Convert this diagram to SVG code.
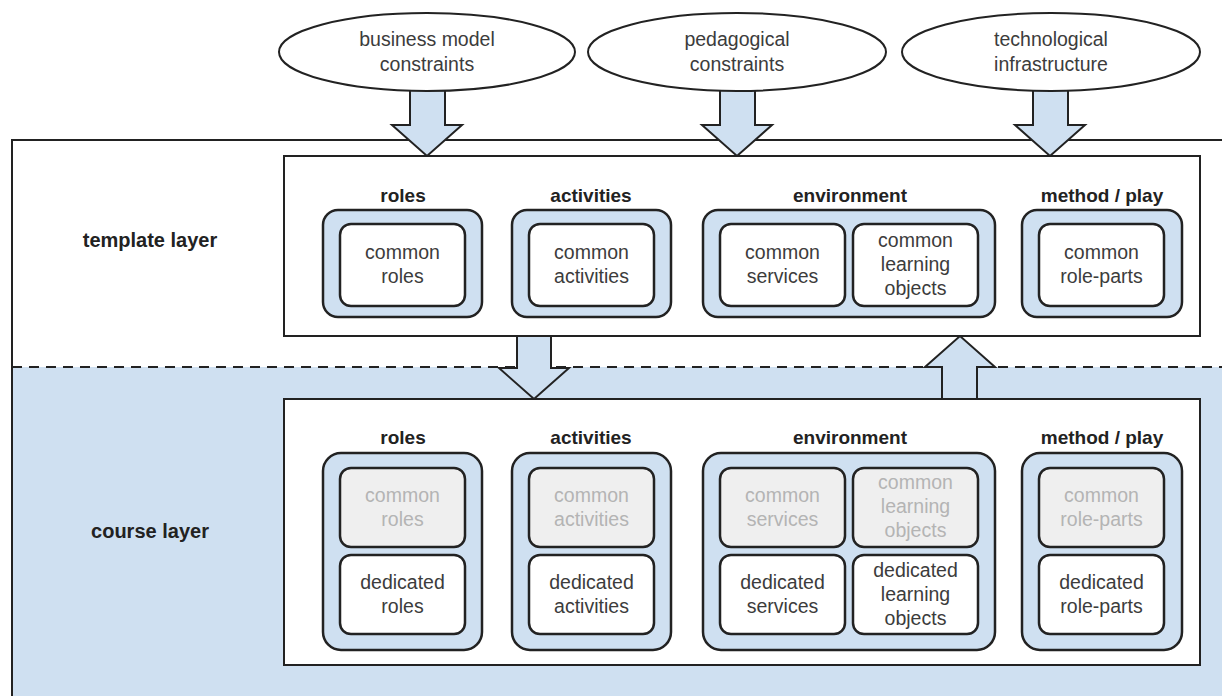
<svg xmlns="http://www.w3.org/2000/svg" width="1222" height="696" viewBox="0 0 1222 696">
<style>
  text { font-family: "Liberation Sans", Arial, Helvetica, sans-serif; text-anchor: middle; }
  .t { font-size: 19.5px; fill: #3c3c3c; }
  .f { font-size: 19.5px; fill: #b4b4b4; }
  .lbl { font-size: 19px; font-weight: bold; fill: #222; }
  .layer { font-size: 20px; font-weight: bold; fill: #222; }
  .grp { fill: #cfe0f1; stroke: #222; stroke-width: 2.5; }
  .box { fill: #fff; stroke: #222; stroke-width: 2.5; }
  .fbox { fill: #efefef; stroke: #222; stroke-width: 2.5; }
  .frame { fill: #fff; stroke: #222; stroke-width: 2; }
  .arrow { fill: #cfe0f1; stroke: #222; stroke-width: 2; stroke-linejoin: miter; }
  .ell { fill: #fff; stroke: #222; stroke-width: 2; }
</style>

<g id="layers">
  <rect x="12" y="140" width="1230" height="600" fill="#fff" stroke="#222" stroke-width="2"/>
  <rect x="13" y="367" width="1209" height="329" fill="#cfe0f1"/>
  <line x1="12" y1="367" x2="1222" y2="367" stroke="#222" stroke-width="2" stroke-dasharray="10 7"/>
  <text class="layer" x="150" y="247">template layer</text>
  <text class="layer" x="150" y="538">course layer</text>
</g>

<g id="connectors">
  <path class="arrow" d="M410,88 V125 H392 L427,156 L462,125 H445 V88 Z"/>
  <path class="arrow" d="M720,88 V125 H702 L737,156 L772,125 H755 V88 Z"/>
  <path class="arrow" d="M1033,88 V125 H1015 L1050,156 L1085,125 H1068 V88 Z"/>
  <path class="arrow" d="M517,336 V368 H499 L534,399 L569,368 H551 V336 Z"/>
  <path class="arrow" d="M942,399 V367 H925 L960,336 L995,367 H977 V399 Z"/>
</g>

<g id="business-model-constraints">
  <ellipse class="ell" cx="427" cy="52" rx="148" ry="39"/>
  <text class="t" x="427" y="46">business model</text>
  <text class="t" x="427" y="71">constraints</text>
</g>
<g id="pedagogical-constraints">
  <ellipse class="ell" cx="737" cy="52" rx="149" ry="39"/>
  <text class="t" x="737" y="46">pedagogical</text>
  <text class="t" x="737" y="71">constraints</text>
</g>
<g id="technological-infrastructure">
  <ellipse class="ell" cx="1051" cy="52" rx="149" ry="39"/>
  <text class="t" x="1051" y="46">technological</text>
  <text class="t" x="1051" y="71">infrastructure</text>
</g>

<g id="template-layer">
  <rect class="frame" x="284" y="156" width="916" height="180"/>
</g>
<g id="course-layer">
  <rect class="frame" x="284" y="399" width="916" height="266"/>
</g>

<!-- template layer groups -->
<g id="t-roles">
  <text class="lbl" x="403" y="202">roles</text>
  <rect class="grp" x="323" y="210" width="159" height="107" rx="15"/>
  <rect class="box" x="340" y="224" width="125" height="82" rx="11"/>
  <text class="t" x="402.5" y="259">common</text>
  <text class="t" x="402.5" y="283">roles</text>
</g>
<g id="t-activities">
  <text class="lbl" x="591" y="202">activities</text>
  <rect class="grp" x="512" y="210" width="159" height="107" rx="15"/>
  <rect class="box" x="529" y="224" width="125" height="82" rx="11"/>
  <text class="t" x="591.5" y="259">common</text>
  <text class="t" x="591.5" y="283">activities</text>
</g>
<g id="t-environment">
  <text class="lbl" x="850" y="202">environment</text>
  <rect class="grp" x="703" y="210" width="292" height="107" rx="15"/>
  <rect class="box" x="720" y="224" width="125" height="82" rx="11"/>
  <text class="t" x="782.5" y="259">common</text>
  <text class="t" x="782.5" y="283">services</text>
  <rect class="box" x="853" y="224" width="125" height="82" rx="11"/>
  <text class="t" x="915.5" y="247">common</text>
  <text class="t" x="915.5" y="271">learning</text>
  <text class="t" x="915.5" y="295">objects</text>
</g>
<g id="t-method-play">
  <text class="lbl" x="1102" y="202">method / play</text>
  <rect class="grp" x="1022" y="210" width="160" height="107" rx="15"/>
  <rect class="box" x="1039" y="224" width="125" height="82" rx="11"/>
  <text class="t" x="1101.5" y="259">common</text>
  <text class="t" x="1101.5" y="283">role-parts</text>
</g>

<!-- course layer groups -->
<g id="c-roles">
  <text class="lbl" x="403" y="444">roles</text>
  <rect class="grp" x="323" y="453" width="159" height="197" rx="18"/>
  <rect class="fbox" x="340" y="468" width="125" height="79" rx="11"/>
  <text class="f" x="402.5" y="502">common</text>
  <text class="f" x="402.5" y="526">roles</text>
  <rect class="box" x="340" y="555" width="125" height="79" rx="11"/>
  <text class="t" x="402.5" y="589">dedicated</text>
  <text class="t" x="402.5" y="613">roles</text>
</g>
<g id="c-activities">
  <text class="lbl" x="591" y="444">activities</text>
  <rect class="grp" x="512" y="453" width="159" height="197" rx="18"/>
  <rect class="fbox" x="529" y="468" width="125" height="79" rx="11"/>
  <text class="f" x="591.5" y="502">common</text>
  <text class="f" x="591.5" y="526">activities</text>
  <rect class="box" x="529" y="555" width="125" height="79" rx="11"/>
  <text class="t" x="591.5" y="589">dedicated</text>
  <text class="t" x="591.5" y="613">activities</text>
</g>
<g id="c-environment">
  <text class="lbl" x="850" y="444">environment</text>
  <rect class="grp" x="703" y="453" width="292" height="197" rx="18"/>
  <rect class="fbox" x="720" y="468" width="125" height="79" rx="11"/>
  <text class="f" x="782.5" y="502">common</text>
  <text class="f" x="782.5" y="526">services</text>
  <rect class="fbox" x="853" y="468" width="125" height="79" rx="11"/>
  <text class="f" x="915.5" y="489">common</text>
  <text class="f" x="915.5" y="513">learning</text>
  <text class="f" x="915.5" y="537">objects</text>
  <rect class="box" x="720" y="555" width="125" height="79" rx="11"/>
  <text class="t" x="782.5" y="589">dedicated</text>
  <text class="t" x="782.5" y="613">services</text>
  <rect class="box" x="853" y="555" width="125" height="79" rx="11"/>
  <text class="t" x="915.5" y="577">dedicated</text>
  <text class="t" x="915.5" y="601">learning</text>
  <text class="t" x="915.5" y="625">objects</text>
</g>
<g id="c-method-play">
  <text class="lbl" x="1102" y="444">method / play</text>
  <rect class="grp" x="1022" y="453" width="160" height="197" rx="18"/>
  <rect class="fbox" x="1039" y="468" width="125" height="79" rx="11"/>
  <text class="f" x="1101.5" y="502">common</text>
  <text class="f" x="1101.5" y="526">role-parts</text>
  <rect class="box" x="1039" y="555" width="125" height="79" rx="11"/>
  <text class="t" x="1101.5" y="589">dedicated</text>
  <text class="t" x="1101.5" y="613">role-parts</text>
</g>
</svg>
